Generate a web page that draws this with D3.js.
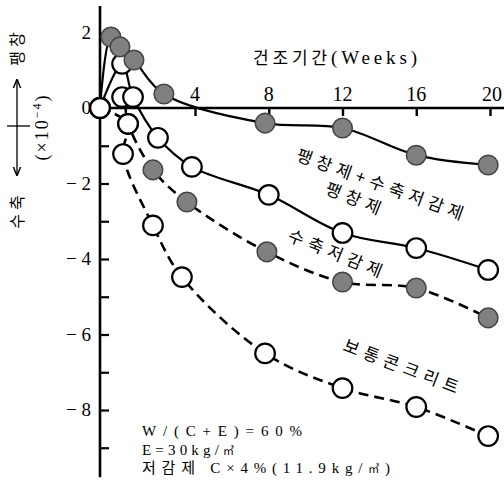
<!DOCTYPE html>
<html><head><meta charset="utf-8">
<script src="https://cdn.jsdelivr.net/npm/d3@7"></script>
<style>
html,body{margin:0;padding:0;background:#fff;}
svg{display:block;}
.lat{font-family:"Liberation Serif","DejaVu Serif",serif;}
.kr{font-family:"Noto Sans CJK KR","Noto Sans",sans-serif;}
</style></head>
<body>
<svg id="c" width="504" height="494"></svg>
<script>
// ---- data ----
const weekTicks = [4, 8, 12, 16, 20];
const yLabelValues = [2, 0, -2, -4, -6, -8];
const yTickValues = [-1, -2, -3, -4, -5, -6, -7, -8, -9];

const seriesNames = ["팽창제+수축저감제", "팽창제", "수축저감제", "보통콘크리트"];
// [weeks, strain ×10^-4]
const expAndSra = [[0,0],[0.46,1.88],[0.84,1.62],[1.43,1.27],[2.69,0.37],[7.8,-0.40],[12,-0.53],[16,-1.25],[19.9,-1.51]];
const expOnly   = [[0,0],[0.93,1.17],[1.39,0.29],[2.44,-0.79],[3.87,-1.56],[8,-2.30],[12,-3.31],[16,-3.71],[19.9,-4.29]];
const sraOnly   = [[0,0],[0.93,0.29],[1.18,-0.42],[2.23,-1.64],[3.66,-2.49],[7.9,-3.81],[12,-4.61],[16,-4.77],[19.9,-5.56]];
const plain     = [[0,0],[1.18,-0.42],[0.97,-1.22],[2.23,-3.11],[3.45,-4.48],[7.8,-6.5],[12,-7.42],[16,-7.92],[19.9,-8.69]];

const noteLines = ["W/(C+E)=60%", "E=30kg/㎥", "저감제  C×4%(11.9kg/㎥)"];

// ---- styles (separate from data) ----
const seriesStyle = [
  {data: expAndSra, filled: true,  dashed: false, openCount: 1},
  {data: expOnly,   filled: false, dashed: false, openCount: 0},
  {data: sraOnly,   filled: true,  dashed: true,  openCount: 3},
  {data: plain,     filled: false, dashed: true,  openCount: 0}
];
const noteWidths = [160, 92, 248];

const svg = d3.select("#c");
const x = d3.scaleLinear().domain([0, 4, 20]).range([100, 195, 490]);
const y = d3.scaleLinear().domain([0, -8]).range([108, 410]);

// axes lines
svg.append("line").attr("x1", x(0)).attr("x2", x(0)).attr("y1", y(2.7)).attr("y2", y(-9.78))
  .attr("stroke", "#000").attr("stroke-width", 2.6);
svg.append("line").attr("x1", x(0)).attr("x2", 504).attr("y1", y(0)).attr("y2", y(0))
  .attr("stroke", "#000").attr("stroke-width", 2.4);

// y ticks
const yAx = svg.append("g").attr("transform", `translate(${x(0)},0)`)
  .call(d3.axisRight(y).tickValues(yTickValues).tickSize(9).tickFormat(""));
yAx.select(".domain").remove();
yAx.selectAll(".tick line").attr("stroke-width", 2.2);

// x ticks
const xAx = svg.append("g").attr("transform", `translate(0,${y(0)})`)
  .call(d3.axisBottom(x).tickValues(weekTicks).tickSize(8).tickFormat(""));
xAx.select(".domain").remove();
xAx.selectAll(".tick line").attr("stroke-width", 2.4);

// y labels
svg.selectAll(".ylab").data(yLabelValues).enter().append("text")
  .attr("class", "lat").attr("x", 91).attr("y", d => y(d) + 6)
  .attr("text-anchor", "end").attr("font-size", 19)
  .text(d => d < 0 ? "− " + Math.abs(d) : d);

// x labels
svg.selectAll(".xlab").data(weekTicks).enter().append("text")
  .attr("class", "lat").attr("x", d => x(d) + (d === 20 ? 2 : 0)).attr("y", 101)
  .attr("text-anchor", "middle").attr("font-size", 20)
  .text(d => d);

// x title
const tt = svg.append("text").attr("x", 253).attr("y", 64).attr("font-size", 17)
  .attr("textLength", 164).attr("lengthAdjust", "spacing");
tt.append("tspan").attr("class", "kr").text("건조기간");
tt.append("tspan").attr("class", "lat").attr("font-size", 19).text("(Weeks)");

// left side labels
svg.append("text").attr("class", "kr").attr("font-size", 16).attr("text-anchor", "middle")
  .attr("transform", "translate(23,47) rotate(-90)").attr("letter-spacing", 4).text("팽창");
svg.append("text").attr("class", "kr").attr("font-size", 16).attr("text-anchor", "middle")
  .attr("transform", "translate(23,210) rotate(-90)").attr("letter-spacing", 4).text("수축");
const ul = svg.append("text").attr("class", "lat").attr("font-size", 18).attr("text-anchor", "middle")
  .attr("transform", "translate(48,127) rotate(-90)").attr("letter-spacing", 2);
ul.append("tspan").text("(×10");
ul.append("tspan").attr("dy", -7).attr("font-size", 12).text("−4");
ul.append("tspan").attr("dy", 7).text(")");

// arrow
const defs = svg.append("defs");
defs.append("marker").attr("id", "ah").attr("viewBox", "0 0 10 10").attr("refX", 9).attr("refY", 5)
  .attr("markerWidth", 7).attr("markerHeight", 7).attr("orient", "auto-start-reverse")
  .append("path").attr("d", "M0,1 L10,5 L0,9").attr("fill", "none").attr("stroke", "#000").attr("stroke-width", 1.6);
svg.append("line").attr("x1", 17).attr("x2", 17).attr("y1", 80).attr("y2", 175)
  .attr("stroke", "#000").attr("stroke-width", 1.3)
  .attr("marker-start", "url(#ah)").attr("marker-end", "url(#ah)");
svg.append("line").attr("x1", 7).attr("x2", 30).attr("y1", 126).attr("y2", 126)
  .attr("stroke", "#000").attr("stroke-width", 1.3);

// lines
const line = d3.line().x(d => x(d[0])).y(d => y(d[1])).curve(d3.curveCatmullRom.alpha(0.5));
seriesStyle.forEach(s => {
  svg.append("path").attr("d", line(s.data)).attr("fill", "none")
    .attr("stroke", "#000").attr("stroke-width", s.dashed ? 2.6 : 2.2)
    .attr("stroke-dasharray", s.dashed ? "10,6" : null);
});

// markers
seriesStyle.slice().reverse().forEach(s => {
  svg.append("g").selectAll("circle").data(s.data).enter().append("circle")
    .attr("cx", d => x(d[0])).attr("cy", d => y(d[1])).attr("r", 9.8)
    .attr("fill", (d, i) => (s.filled && i >= s.openCount) ? "#808080" : "#fff")
    .attr("stroke", (d, i) => (s.filled && i >= s.openCount) ? "#444" : "#000")
    .attr("stroke-width", (d, i) => (s.filled && i >= s.openCount) ? 1.5 : 2.2);
});

// series annotations
const ann = [
  {t: seriesNames[0], x: 378, y: 190, a: 20, w: 176},
  {t: seriesNames[1], x: 351, y: 204, a: 22, w: 58},
  {t: seriesNames[2], x: 333, y: 259, a: 22, w: 100},
  {t: seriesNames[3], x: 399, y: 372, a: 21, w: 122}
];
svg.selectAll(".ann").data(ann).enter().append("text")
  .attr("class", "kr").attr("font-size", 17)
  .attr("transform", d => `translate(${d.x},${d.y}) rotate(${d.a}) translate(${-d.w / 2},0)`)
  .attr("textLength", d => d.w).attr("lengthAdjust", "spacing")
  .text(d => d.t);

// notes
const notes = svg.selectAll(".note").data(noteLines).enter().append("text")
  .attr("x", 142).attr("y", (d, i) => 436 + i * 18.5)
  .attr("font-size", 15)
  .attr("font-family", "'Liberation Serif','Noto Sans CJK KR',serif")
  .attr("textLength", (d, i) => noteWidths[i]).attr("lengthAdjust", "spacing");
notes.each(function(d) {
  const parts = d.split("㎥");
  const el = d3.select(this);
  parts.forEach((p, k) => {
    el.append("tspan").text(p);
    if (k < parts.length - 1) el.append("tspan").attr("font-size", 11).text("㎥");
  });
});
</script>
</body></html>
